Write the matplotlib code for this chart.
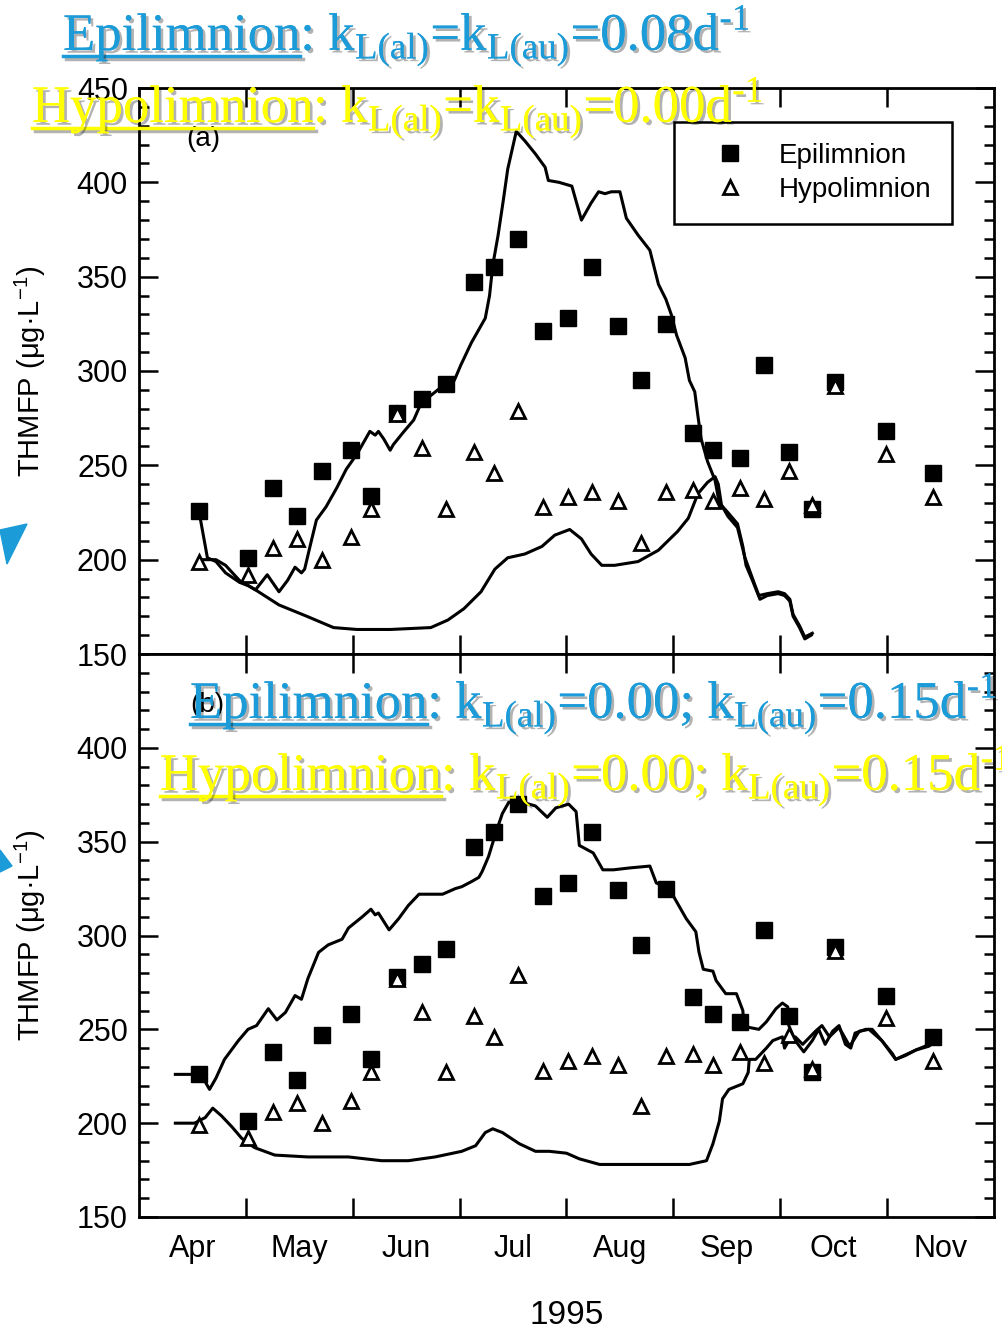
import matplotlib
matplotlib.use("Agg")
import matplotlib.pyplot as plt
import matplotlib.patheffects as pe
from matplotlib.lines import Line2D
from matplotlib.patches import Polygon
from matplotlib.ticker import MultipleLocator

plt.rcParams['font.family'] = ['Liberation Sans', 'DejaVu Sans']
plt.rcParams['mathtext.fontset'] = 'custom'
plt.rcParams['mathtext.rm'] = 'Liberation Serif'
plt.rcParams['mathtext.sf'] = 'Liberation Sans'

# x positions are in months since 1 April 1995
months = ['Apr', 'May', 'Jun', 'Jul', 'Aug', 'Sep', 'Oct', 'Nov']

# observed THMFP (same data in both panels)
obs_x = [0.56, 1.02, 1.25, 1.48, 1.71, 1.98, 2.17, 2.41, 2.65, 2.87, 3.13, 3.32, 3.55, 3.78,
         4.01, 4.24, 4.48, 4.70, 4.93, 5.18, 5.37, 5.62, 5.85, 6.08, 6.30, 6.51, 6.99, 7.43]
epi_obs = [226, 201, 238, 223, 247, 258, 234, 278, 285, 293, 347, 355, 370, 321,
           328, 355, 324, 295, 325, 267, 258, 254, 303, 257, 227, 294, 268, 246]
hypo_obs = [199, 192, 206, 211, 200, 212, 227, 277, 259, 227, 257, 246, 279, 228,
            233, 236, 231, 209, 236, 237, 231, 238, 232, 247, 229, 292, 256, 233]

# model (a)
a_epi_x = [0.56, 0.64, 0.72, 0.81, 0.94, 1.03, 1.09, 1.20, 1.31, 1.39, 1.46, 1.52, 1.55, 1.60,
           1.66, 1.75, 1.85, 1.94, 2.04, 2.16, 2.21, 2.24, 2.29, 2.35, 2.38, 2.48, 2.57, 2.64,
           2.73, 2.84, 2.95, 3.01, 3.11, 3.17, 3.24, 3.28, 3.31, 3.36, 3.41, 3.45, 3.53, 3.61,
           3.71, 3.80, 3.83, 3.93, 4.05, 4.14, 4.23, 4.30, 4.36, 4.42, 4.50, 4.56, 4.67, 4.78,
           4.86, 4.93, 4.98, 5.03, 5.11, 5.15, 5.20, 5.23, 5.26, 5.32, 5.39, 5.43, 5.51, 5.60,
           5.65, 5.68, 5.74, 5.81, 5.88, 5.98, 6.04, 6.09, 6.12, 6.18, 6.23, 6.29]
a_epi_y = [226, 201, 199, 193, 188, 186, 184, 192, 183, 189, 196, 193, 195, 207,
           221, 228, 238, 248, 256, 268, 266, 268, 264, 258, 261, 268, 274, 283,
           287, 292, 295, 303, 315, 321, 328, 340, 356, 372, 391, 407, 427, 422,
           415, 408, 401, 400, 398, 380, 389, 395, 394, 395, 395, 381, 372, 364,
           346, 338, 330, 319, 307, 295, 289, 276, 264, 252, 242, 230, 225, 219,
           207, 197, 189, 179, 181, 182, 181, 178, 170, 164, 158, 160]
a_hyp_x = [0.56, 0.72, 0.81, 0.94, 1.09, 1.31, 1.57, 1.82, 2.04, 2.35, 2.73, 2.89, 3.04, 3.20,
           3.33, 3.45, 3.61, 3.77, 3.89, 4.03, 4.14, 4.23, 4.33, 4.45, 4.67, 4.86, 5.04, 5.14,
           5.23, 5.32, 5.39, 5.42, 5.45, 5.51, 5.60, 5.67, 5.76, 5.80, 5.88, 5.98, 6.04, 6.09,
           6.12, 6.18, 6.23, 6.30]
a_hyp_y = [200, 200, 197, 189, 184, 176, 170, 164, 163, 163, 164, 168, 174, 183,
           195, 201, 203, 207, 213, 216, 211, 203, 197, 197, 199, 205, 215, 222,
           235, 241, 244, 240, 229, 223, 217, 201, 187, 181, 182, 183, 182, 179,
           171, 165, 159, 161]

# model (b)
b_epi_x = [0.34, 0.54, 0.60, 0.66, 0.72, 0.80, 0.93, 1.02, 1.10, 1.21, 1.29, 1.37, 1.46, 1.52,
           1.58, 1.68, 1.77, 1.90, 1.96, 2.09, 2.17, 2.21, 2.24, 2.34, 2.43, 2.52, 2.62, 2.71,
           2.84, 2.96, 3.02, 3.12, 3.18, 3.21, 3.27, 3.34, 3.40, 3.46, 3.59, 3.71, 3.82, 3.90,
           4.02, 4.09, 4.12, 4.25, 4.34, 4.44, 4.59, 4.78, 4.84, 4.96, 5.06, 5.12, 5.21, 5.24,
           5.28, 5.37, 5.40, 5.49, 5.59, 5.65, 5.66, 5.71, 5.80, 5.87, 5.96, 6.02, 6.07, 6.08,
           6.14, 6.22, 6.30, 6.36, 6.42, 6.49, 6.55, 6.61, 6.66, 6.70, 6.80, 6.86, 6.95, 7.05,
           7.08, 7.17, 7.27, 7.39, 7.44]
b_epi_y = [226, 226, 224, 218, 224, 234, 244, 250, 252, 261, 255, 259, 268, 266,
           277, 291, 295, 298, 304, 310, 314, 311, 312, 303, 309, 316, 322, 322,
           322, 325, 326, 329, 331, 334, 342, 355, 365, 371, 371, 369, 363, 368,
           370, 366, 348, 344, 335, 335, 336, 337, 328, 325, 315, 309, 302, 291,
           282, 281, 276, 269, 269, 260, 252, 251, 250, 254, 261, 264, 262, 252,
           244, 238, 244, 250, 242, 249, 252, 242, 240, 248, 250, 250, 244, 237,
           234, 236, 239, 241, 243]
b_hyp_x = [0.34, 0.52, 0.62, 0.69, 0.77, 0.87, 0.96, 1.08, 1.27, 1.58, 1.96, 2.27, 2.52, 2.77,
           3.02, 3.15, 3.24, 3.31, 3.40, 3.56, 3.71, 3.84, 4.00, 4.12, 4.31, 4.59, 4.90, 5.15,
           5.31, 5.37, 5.43, 5.46, 5.52, 5.65, 5.70, 5.71, 5.77, 5.87, 5.93, 6.02, 6.04, 6.08,
           6.14, 6.21, 6.33, 6.39, 6.46, 6.55, 6.65, 6.74, 6.83, 6.95, 7.08, 7.27, 7.44]
b_hyp_y = [200, 200, 203, 208, 204, 198, 192, 187, 183, 182, 182, 180, 180, 182,
           185, 188, 195, 197, 195, 189, 185, 185, 184, 181, 178, 178, 178, 178,
           180, 189, 201, 213, 218, 221, 227, 234, 234, 240, 244, 246, 240, 244,
           246, 242, 249, 252, 246, 251, 241, 249, 250, 244, 234, 239, 243]

W, H = 1003, 1334
fig = plt.figure(figsize=(W / 100, H / 100), dpi=100)
ax1 = fig.add_axes([139 / W, 1 - 654 / H, 855 / W, 566 / H])
ax2 = fig.add_axes([139 / W, 1 - 1217 / H, 855 / W, 563 / H])


def style(ax, yt):
    ax.set_xlim(0, 8)
    ax.set_ylim(150, 450)
    ax.set_xticks(range(1, 8))
    ax.set_yticks(yt)
    ax.yaxis.set_minor_locator(MultipleLocator(10))
    ax.tick_params(which='both', direction='in', top=True, right=True, width=1.8)
    ax.tick_params(which='major', length=14, labelsize=22, pad=8)
    ax.tick_params(which='minor', length=7)
    for s in ax.spines.values():
        s.set_linewidth(2)
    ax.set_ylabel(r'THMFP (μg·L$^{\mathsf{-1}}$)', fontsize=21)
    ax.yaxis.set_label_coords(-0.106, 0.5)


for ax, ex, ey, hx, hy in [(ax1, a_epi_x, a_epi_y, a_hyp_x, a_hyp_y),
                           (ax2, b_epi_x, b_epi_y, b_hyp_x, b_hyp_y)]:
    ax.plot(ex, ey, color='black', lw=2.2)
    ax.plot(hx, hy, color='black', lw=2.2)
    ax.plot(obs_x, epi_obs, 's', color='black', ms=12, label='Epilimnion')
    ax.plot(obs_x, hypo_obs, '^', mfc='white', mec='black', mew=2, ms=10.5, label='Hypolimnion')

style(ax1, [150, 200, 250, 300, 350, 400, 450])
style(ax2, [150, 200, 250, 300, 350, 400])
ax1.tick_params(axis='x', labelbottom=False)
ax2.set_xticks([m + 0.5 for m in range(8)], minor=True)
ax2.set_xticklabels([], minor=False)
ax2.set_xticklabels(months, minor=True)
ax2.tick_params(axis='x', which='minor', length=0, labelsize=22, pad=12)
ax2.set_xlabel('1995', fontsize=24, labelpad=26)

ax1.text(0.075, 0.91, '(a)', transform=ax1.transAxes, fontsize=20, ha='center', va='center')
ax2.text(0.08, 0.91, '(b)', transform=ax2.transAxes, fontsize=20, ha='center', va='center')

leg = ax1.legend(loc='upper right', bbox_to_anchor=(0.951, 0.94), borderaxespad=0, fontsize=20,
                 frameon=True, fancybox=False, edgecolor='black', handlelength=2.5,
                 handletextpad=0.5, borderpad=0.75, labelspacing=0.3, numpoints=1,
                 framealpha=1)
leg.get_frame().set_linewidth(1.8)

# slide overlay texts
blue = '#1b9bd7'
yellow = '#ffff00'
shadow = [pe.withSimplePatchShadow(offset=(2, -2), shadow_rgbFace='black', alpha=0.3),
          pe.Normal()]
renderer = fig.canvas.get_renderer()


def banner(x, y, head, rest, color):
    kw = dict(fontsize=38, color=color, family='Liberation Serif', va='baseline',
              ha='left', zorder=20, path_effects=shadow)
    t1 = fig.text(x / W, 1 - y / H, head, **kw)
    bb = t1.get_window_extent(renderer)
    fig.text(bb.x1 / W, 1 - y / H, rest, **kw)
    ul = Line2D([bb.x0 / W, bb.x1 / W], [1 - (y + 6) / H] * 2, transform=fig.transFigure,
                color=color, lw=2.5, zorder=20,
                path_effects=[pe.SimpleLineShadow(offset=(2, -2), alpha=0.3), pe.Normal()])
    fig.add_artist(ul)


banner(63, 50, 'Epilimnion',
       r': k$_{\mathrm{L(al)}}$=k$_{\mathrm{L(au)}}$=0.08d$^{\text{-1}}$', blue)
banner(32, 122, 'Hypolimnion',
       r': k$_{\mathrm{L(al)}}$=k$_{\mathrm{L(au)}}$=0.00d$^{\text{-1}}$', yellow)
banner(190, 718, 'Epilimnion',
       r': k$_{\mathrm{L(al)}}$=0.00; k$_{\mathrm{L(au)}}$=0.15d$^{\text{-1}}$', blue)
banner(160, 790, 'Hypolimnion',
       r': k$_{\mathrm{L(al)}}$=0.00; k$_{\mathrm{L(au)}}$=0.15d$^{\text{-1}}$', yellow)

# blue arrow tips at the left edge
for pts in [[(0, 530), (27, 524), (7, 564)], [(0, 850), (12, 866), (0, 872)]]:
    fig.add_artist(Polygon([(px / W, 1 - py / H) for px, py in pts], closed=True,
                           transform=fig.transFigure, color=blue, zorder=20))

fig.savefig('out.png', dpi=100)
